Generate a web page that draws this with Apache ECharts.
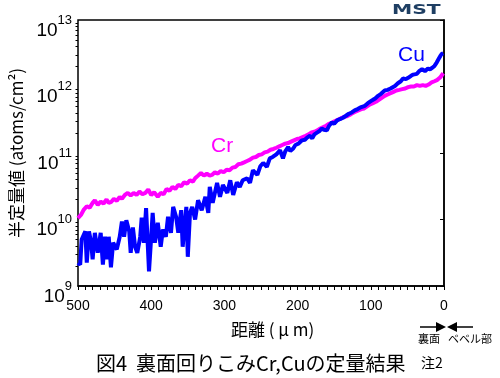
<!DOCTYPE html>
<html><head><meta charset="utf-8">
<script src="https://cdn.jsdelivr.net/npm/echarts@6/dist/echarts.min.js"></script>
<style>html,body{margin:0;padding:0;background:#fff}#c{width:500px;height:378px}</style>
</head><body><div id="c"></div>
<script>
const crDist = [500,496,492,488,484,480,477,473,469,465,461,458,455,451,447,443,440,436,432,428,424,420,416,412,408,404,400,396,391,387,383,379,375,371,367,363,359,355,351,347,343,340,336,332,328,324,320,317,313,309,305,301,297,293,289,285,281,277,273,269,265,261,257,253,249,245,241,237,233,229,225,221,217,213,209,205,201,197,193,189,185,181,177,173,169,165,161,157,153,149,145,141,137,133,129,125,121,117,113,109,105,101,97,93,89,85,81,77,73,69,65,61,57,53,49,45,41,37,33,29,25,21,17,13,9,5,1];
const crVal = [1.05e10,1.17e10,1.41e10,1.58e10,1.51e10,1.78e10,1.95e10,1.66e10,1.86e10,1.74e10,2.00e10,1.78e10,1.82e10,2.04e10,1.91e10,2.19e10,2.04e10,2.34e10,2.51e10,2.29e10,2.51e10,2.34e10,2.63e10,2.40e10,2.51e10,2.82e10,2.34e10,2.57e10,2.19e10,2.51e10,2.40e10,2.88e10,2.69e10,3.09e10,2.88e10,3.31e10,3.16e10,3.63e10,3.47e10,3.89e10,3.72e10,4.17e10,4.57e10,5.01e10,4.57e10,4.90e10,4.57e10,4.68e10,5.13e10,4.90e10,5.37e10,5.13e10,5.62e10,5.50e10,6.03e10,6.17e10,6.76e10,6.92e10,7.24e10,7.59e10,7.94e10,8.51e10,8.71e10,9.33e10,9.55e10,1.02e11,1.05e11,1.12e11,1.15e11,1.20e11,1.26e11,1.32e11,1.38e11,1.41e11,1.48e11,1.55e11,1.62e11,1.66e11,1.74e11,1.82e11,1.91e11,2.04e11,2.09e11,2.19e11,2.34e11,2.45e11,2.57e11,2.75e11,2.88e11,3.02e11,3.16e11,3.31e11,3.47e11,3.55e11,3.72e11,3.98e11,4.17e11,4.37e11,4.57e11,4.68e11,5.01e11,5.37e11,5.62e11,5.89e11,6.31e11,6.76e11,7.24e11,7.59e11,7.94e11,8.32e11,8.71e11,8.91e11,9.12e11,9.33e11,9.77e11,1.00e12,1.00e12,1.05e12,1.02e12,1.05e12,1.02e12,1.07e12,1.15e12,1.20e12,1.26e12,1.38e12,1.58e12];
const cuDist = [500,497,495,490,488,485,482,480,477,473,469,466,463,460,458,455,452,449,447,443,440,437,434,430,428,425,422,419,415,413,410,407,403,400,398,395,391,387,384,380,377,373,370,366,363,359,357,352,350,347,344,340,336,331,326,322,320,316,310,306,302,296,292,288,283,279,275,269,265,261,255,251,247,242,238,234,229,224,220,217,213,210,206,203,199,194,190,187,183,180,177,173,170,167,164,160,157,153,150,146,142,138,134,130,126,122,118,113,108,104,100,97,94,90,86,81,77,73,70,67,63,59,56,52,49,45,42,40,37,34,30,28,26,22,19,16,13,10,7,5,3,1];
const cuVal = [2.24e9,2.09e9,5.01e9,6.61e9,2.24e9,6.61e9,4.47e9,2.51e9,6.31e9,3.16e9,6.31e9,2.09e9,5.50e9,2.51e9,5.50e9,1.91e9,4.47e9,3.89e9,3.55e9,5.50e9,9.33e9,5.50e9,9.77e9,6.61e9,3.16e9,7.59e9,3.89e9,3.16e9,5.50e9,1.07e10,4.47e9,1.48e10,1.66e9,5.50e9,1.26e10,4.47e9,8.91e9,3.89e9,7.08e9,5.50e9,1.10e10,6.31e9,1.55e10,1.10e10,6.31e9,1.38e10,3.89e9,1.55e10,2.75e9,1.26e10,1.55e10,1.00e10,1.95e10,1.38e10,2.19e10,1.26e10,3.09e10,1.78e10,3.55e10,2.19e10,3.31e10,2.51e10,3.89e10,2.34e10,3.63e10,3.09e10,3.89e10,4.17e10,3.55e10,5.50e10,4.68e10,6.31e10,7.08e10,6.17e10,8.32e10,8.71e10,9.55e10,1.10e11,8.32e10,1.05e11,1.23e11,1.07e11,1.17e11,1.32e11,1.38e11,1.55e11,1.58e11,1.70e11,1.82e11,1.66e11,1.91e11,2.04e11,2.14e11,2.34e11,2.24e11,2.19e11,2.57e11,2.88e11,2.75e11,3.09e11,3.24e11,3.39e11,3.63e11,3.89e11,4.07e11,4.37e11,4.57e11,4.90e11,5.13e11,5.62e11,6.03e11,6.31e11,6.61e11,7.24e11,7.76e11,8.71e11,8.91e11,9.33e11,9.77e11,1.02e12,1.12e12,1.20e12,1.32e12,1.29e12,1.35e12,1.45e12,1.51e12,1.58e12,1.55e12,1.70e12,1.82e12,1.74e12,1.70e12,1.86e12,1.82e12,1.91e12,2.04e12,2.29e12,2.63e12,2.88e12,3.09e12,3.16e12];
const xTicks = [500,400,300,200,100,0];
const yMinorTicks = [2e9,3e9,4e9,5e9,6e9,7e9,8e9,9e9,2e10,3e10,4e10,5e10,6e10,7e10,8e10,9e10,2e11,3e11,4e11,5e11,6e11,7e11,8e11,9e11,2e12,3e12,4e12,5e12,6e12,7e12,8e12,9e12];

const crData = crDist.map((d, i) => [d, crVal[i]]);
const cuData = cuDist.map((d, i) => [d, cuVal[i]]);

const numFont = '"Liberation Sans", Arial, sans-serif';
const jpFont = '"Noto Sans CJK JP", sans-serif';
const chart = echarts.init(document.getElementById('c'), null, {renderer: 'canvas'});
chart.setOption({
  animation: false,
  grid: {left: 78, top: 18, width: 366, height: 268, show: true, borderColor: '#000', borderWidth: 1.5, backgroundColor: 'transparent'},
  xAxis: {
    type: 'value', min: 0, max: 500, interval: 100, inverse: true,
    axisLine: {lineStyle: {color: '#000', width: 1.5}},
    axisTick: {show: true, inside: false, length: 4, lineStyle: {color: '#000'}},
    minorTick: {show: true, splitNumber: 10, length: 4, lineStyle: {color: '#000'}},
    splitLine: {show: false},
    axisLabel: {color: '#000', fontFamily: numFont, fontSize: 14, margin: 13}
  },
  yAxis: [{
    type: 'log', min: 1e9, max: 1e13, logBase: 10,
    axisLine: {show: true, lineStyle: {color: '#000', width: 1.5}},
    axisTick: {show: true, inside: false, length: 4, lineStyle: {color: '#000'}},
    splitLine: {show: false},
    axisLabel: {
      margin: 6,
      formatter: v => '{b|10}{s|' + Math.round(Math.log10(v)) + '}',
      rich: {
        b: {fontFamily: numFont, fontSize: 19, color: '#000', lineHeight: 19, padding: [21, 0, 0, 0]},
        s: {fontFamily: numFont, fontSize: 13, color: '#000', lineHeight: 13, verticalAlign: 'middle'}
      }
    },
    name: '半定量値 (atoms/cm²)', nameLocation: 'middle', nameGap: 47, nameRotate: 90,
    nameTextStyle: {fontFamily: jpFont, fontSize: 17, color: '#000'}
  }, {
    type: 'log', min: 1e9, max: 1e13, position: 'left',
    axisLine: {show: false},
    axisTick: {show: true, inside: false, length: 2.5, customValues: yMinorTicks, lineStyle: {color: '#000'}},
    axisLabel: {show: false},
    splitLine: {show: false}
  }],
  series: [
    {name: 'Cr', type: 'line', data: crData, showSymbol: false, lineStyle: {color: '#ff00ff', width: 4}, itemStyle: {color: '#ff00ff'}},
    {name: 'Cu', type: 'line', data: cuData, showSymbol: false, lineStyle: {color: '#0000ff', width: 4}, itemStyle: {color: '#0000ff'}}
  ],
  graphic: [
    {type: 'text', left: 211, top: 136, style: {text: 'Cr', fill: '#ff00ff', font: '21px ' + numFont}},
    {type: 'text', left: 398, top: 45, style: {text: 'Cu', fill: '#0000ff', font: '21px ' + numFont}},
    {type: 'text', x: 392, y: 3, scaleX: 1.45, style: {text: 'MST', fill: '#1f3f63', font: '900 14px "DejaVu Sans", sans-serif'}},
    {type: 'text', left: 231, top: 321, style: {text: '距離 ( μ m)', fill: '#000', font: '17px ' + jpFont}},
    {type: 'text', left: 96, top: 353, style: {text: '図4  裏面回りこみCr,Cuの定量結果', fill: '#000', font: '20px ' + jpFont}},
    {type: 'text', left: 421, top: 356, style: {text: '注2', fill: '#000', font: '14px ' + jpFont}},
    {type: 'line', shape: {x1: 420, y1: 327, x2: 436, y2: 327}, style: {stroke: '#000', lineWidth: 1.5}},
    {type: 'polygon', shape: {points: [[436, 322], [446, 327], [436, 332]]}, style: {fill: '#000'}},
    {type: 'polygon', shape: {points: [[457, 322], [447, 327], [457, 332]]}, style: {fill: '#000'}},
    {type: 'line', shape: {x1: 457, y1: 327, x2: 473, y2: 327}, style: {stroke: '#000', lineWidth: 1.5}},
    {type: 'text', left: 418, top: 333, style: {text: '裏面', fill: '#000', font: '11px ' + jpFont}},
    {type: 'text', left: 448, top: 333, style: {text: 'ベベル部', fill: '#000', font: '11px ' + jpFont}}
  ]
});
</script></body></html>
